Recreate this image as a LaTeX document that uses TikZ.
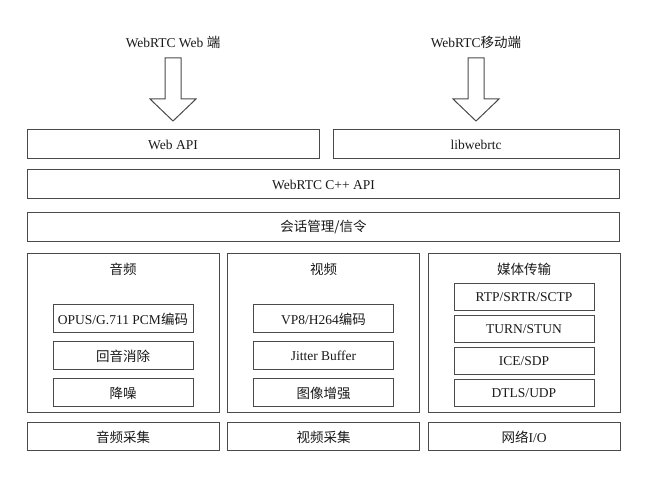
\documentclass[tikz,border=0pt]{standalone}
\usepackage{fontspec}
\setmainfont{Liberation Serif}
\newfontfamily\cjk{Noto Sans CJK SC}
\usetikzlibrary{positioning}

\definecolor{linegray}{HTML}{4A4A4A}
\definecolor{txtgray}{HTML}{1A1A1A}

\tikzset{
  label text/.style={text=txtgray,font=\fontsize{13.5}{15}\selectfont},
  layer/.style={draw=linegray,line width=1pt,inner sep=0pt,label text,minimum height=29pt},
  wide/.style={layer,minimum width=592pt},
  group/.style={layer,minimum width=192pt,minimum height=159pt},
  unit/.style={layer,minimum width=140pt,minimum height=28pt},
  bigarrow/.style={draw=linegray,line width=1pt,fill=white}
}

% hollow down arrow, #1 = centre x
\newcommand\hollowarrow[1]{%
  \draw[bigarrow] (#1-8,58) -- (#1+8,58) -- (#1+8,99) -- (#1+23,99)
    -- (#1,121) -- (#1-23,99) -- (#1-8,99) -- cycle;}

\begin{document}
\begin{tikzpicture}[x=1pt,y=-1pt]
  \useasboundingbox[fill=white] (0,0) rectangle (670,494);

  % clients
  \node[label text] (webtitle) at (173,42) {WebRTC Web {\cjk 端}};
  \node[label text] (mobtitle) at (476,42) {WebRTC{\cjk 移动端}};
  \hollowarrow{173}
  \hollowarrow{476}

  % api layers
  \node[layer,minimum width=292pt] (webapi) at (173,144.5) {Web API};
  \node[layer,minimum width=286pt] (libwebrtc) at (476,144.5) {libwebrtc};
  \node[wide] (cppapi) at (323.5,184.5) {WebRTC C++ API};
  \node[wide] (session) at (323.5,227) {\cjk 会话管理/信令};

  % audio
  \node[group] (audio) at (123,333.5) {};
  \node[label text] (audiotitle) at (123,269) {\cjk 音频};
  \node[unit] (opus) at (123,319) {OPUS/G.711 PCM{\cjk 编码}};
  \node[unit,below=8pt of opus] (aec) {\cjk 回音消除};
  \node[unit,below=8pt of aec] (ns) {\cjk 降噪};
  \node[layer,minimum width=192pt,minimum height=28pt] (acap) at (123,437) {\cjk 音频采集};

  % video
  \node[group] (video) at (323.5,333.5) {};
  \node[label text] (videotitle) at (323.5,269) {\cjk 视频};
  \node[unit] (vp8) at (323.5,319) {VP8/H264{\cjk 编码}};
  \node[unit,below=8pt of vp8] (jitter) {Jitter Buffer};
  \node[unit,below=8pt of jitter] (enhance) {\cjk 图像增强};
  \node[layer,minimum width=192pt,minimum height=28pt] (vcap) at (323.5,437) {\cjk 视频采集};

  % transport
  \node[group] (transport) at (524,333.5) {};
  \node[label text] (transtitle) at (524,269) {\cjk 媒体传输};
  \node[unit,minimum height=27pt] (rtp) at (524,297.5) {RTP/SRTR/SCTP};
  \node[unit,minimum height=27pt,below=4pt of rtp] (turn) {TURN/STUN};
  \node[unit,minimum height=27pt,below=4pt of turn] (ice) {ICE/SDP};
  \node[unit,minimum height=27pt,below=4pt of ice] (dtls) {DTLS/UDP};
  \node[layer,minimum width=192pt,minimum height=28pt] (netio) at (524,437) {{\cjk 网络}I/O};
\end{tikzpicture}
\end{document}
